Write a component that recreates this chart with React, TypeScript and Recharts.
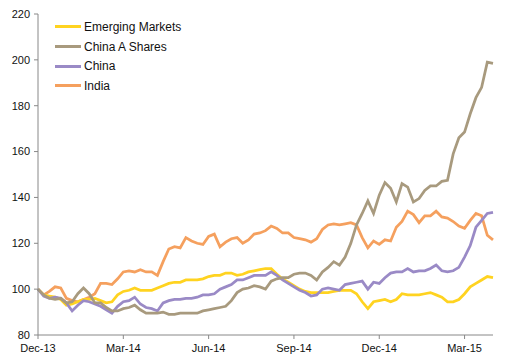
import { LineChart, Line, XAxis, YAxis } from "recharts";

// x = months since end of Dec-13, one point every 0.2 month
const STEP = 0.2;

const TICK_MONTHS = [0, 3, 6, 9, 12, 15];
const TICK_LABELS = ["Dec-13", "Mar-14", "Jun-14", "Sep-14", "Dec-14", "Mar-15"];
const Y_TICKS = [80, 100, 120, 140, 160, 180, 200, 220];

const emergingMarkets = [
  100, 97.5, 97, 96.5, 95.5, 93, 93.5, 94.5, 95.5, 95.5,
  96, 95, 94, 94.5, 97.5, 99, 99.5, 100.5, 99.5, 99.5,
  99.5, 100.5, 101.5, 102.5, 103, 103, 104, 104, 104, 104.5,
  105.5, 106, 106, 107, 107, 106, 106.5, 107.5, 108, 108.5,
  109, 109, 106.5, 104.5, 103, 101.5, 100, 99, 98.5, 98.5,
  98.5, 98.5, 99, 99.5, 99.5, 99.5, 98, 94.5, 91.5, 94.5,
  95, 95.5, 94.5, 95.5, 98, 97.5, 97.5, 97.5, 98, 98.5,
  97.5, 96.5, 94.5, 94.5, 95.5, 98, 101, 102.5, 104, 105.5,
  105,
];

const chinaAShares = [
  100, 97.5, 96, 95.5, 96, 94, 94.5, 98, 100.5, 98,
  94, 94, 92, 90.5, 90.5, 91.5, 92, 93, 91, 89.5,
  89.5, 89.5, 90, 89, 89, 89.5, 89.5, 89.5, 89.5, 90.5,
  91, 91.5, 92, 92.5, 95, 98.5, 100, 100.5, 101.5, 101,
  100, 103.5, 104.5, 105, 105, 106.5, 107, 107, 106, 104,
  107.5, 109.5, 112, 110.5, 114, 120, 128, 133, 138.5, 133,
  141, 146.5, 144, 138, 146, 144.5, 138, 139.5, 143, 145,
  145, 147, 147.5, 159, 166, 168.5, 176.5, 183.5, 188, 199,
  198.5,
];

const china = [
  100, 97, 96, 96.5, 96, 94, 90.5, 93, 95, 94.5,
  93.5, 92.5, 91, 89.5, 92.5, 94.5, 95, 96.5, 93.5, 92,
  91.5, 90.5, 94, 95, 95.5, 95.5, 96, 96, 96.5, 97.5,
  97.5, 98, 100, 101, 102, 104, 104, 105, 106, 106,
  106, 107.5, 106, 104, 102.5, 101, 99.5, 98.5, 97, 97.5,
  100, 100.5, 100, 99.5, 102, 102.5, 103, 103.5, 100, 103,
  102.5, 105, 107, 107.5, 107.5, 109, 107.5, 108, 108, 109,
  110.5, 108, 107.5, 108, 109.5, 114, 119, 127, 130, 133,
  133.5,
];

const india = [
  100, 97.5, 99, 101, 100.5, 96, 95, 94.5, 95.5, 96.5,
  98, 102.5, 102.5, 102, 104.5, 107.5, 108, 107.5, 108.5, 107.5,
  107.5, 106, 112, 117.5, 118.5, 118, 122.5, 121, 120, 119.5,
  123, 124, 118.5, 120.5, 122, 122.5, 120, 121.5, 124, 124.5,
  125.5, 127.5, 126.5, 124.5, 124.5, 122.5, 122, 121.5, 120.5, 122,
  126, 128, 128.5, 128, 128.5, 129, 128, 122.5, 118, 121,
  119.5, 121.5, 121, 127, 129.5, 134, 132.5, 129, 132, 132,
  134, 131.5, 131, 129.5, 127.5, 126.5, 130, 133, 132, 123.5,
  121.5,
];

const SERIES = [
  { key: "em", name: "Emerging Markets", color: "#FFD320", values: emergingMarkets },
  { key: "cna", name: "China A Shares", color: "#A89A7E", values: chinaAShares },
  { key: "cn", name: "China", color: "#9A8AC6", values: china },
  { key: "in", name: "India", color: "#F5A05E", values: india },
];

// draw order (last on top)
const DRAW_ORDER = ["in", "em", "cn", "cna"];

const data = emergingMarkets.map((_, i) => {
  const row: Record<string, number> = { m: i * STEP };
  SERIES.forEach((s) => { row[s.key] = s.values[i]; });
  return row;
});

const FONT = "'Liberation Sans', Arial, sans-serif";

function LegendBox() {
  return (
    <div style={{ position: "absolute", left: 55, top: 17, fontFamily: FONT, fontSize: 12, color: "#111" }}>
      {SERIES.map((s) => (
        <div key={s.key} style={{ display: "flex", alignItems: "center", height: 19.7 }}>
          <span style={{ display: "inline-block", width: 26, height: 3, background: s.color, marginRight: 3 }} />
          <span>{s.name}</span>
        </div>
      ))}
    </div>
  );
}

export default function App() {
  return (
    <div style={{ position: "absolute", left: 0, top: 0, width: 507, height: 358, background: "#fff" }}>
      <LineChart width={507} height={358} data={data} margin={{ top: 14, right: 14, bottom: 3, left: 0 }}>
        <XAxis
          dataKey="m"
          type="number"
          domain={[0, 16]}
          ticks={TICK_MONTHS}
          tickFormatter={(v) => TICK_LABELS[TICK_MONTHS.indexOf(v)] ?? ""}
          tick={{ fill: "#111", fontSize: 11, fontFamily: FONT }}
          stroke="#888"
          tickSize={4}
          tickMargin={5}
          height={20}
          interval={0}
        />
        <YAxis
          domain={[80, 220]}
          ticks={Y_TICKS}
          tick={{ fill: "#111", fontSize: 11, fontFamily: FONT }}
          stroke="#888"
          tickSize={4}
          tickMargin={4}
          width={38}
          interval={0}
        />
        {DRAW_ORDER.map((k) => {
          const s = SERIES.find((x) => x.key === k)!;
          return (
            <Line
              key={s.key}
              dataKey={s.key}
              name={s.name}
              stroke={s.color}
              strokeWidth={2.75}
              dot={false}
              type="linear"
              isAnimationActive={false}
            />
          );
        })}
      </LineChart>
      <LegendBox />
    </div>
  );
}
